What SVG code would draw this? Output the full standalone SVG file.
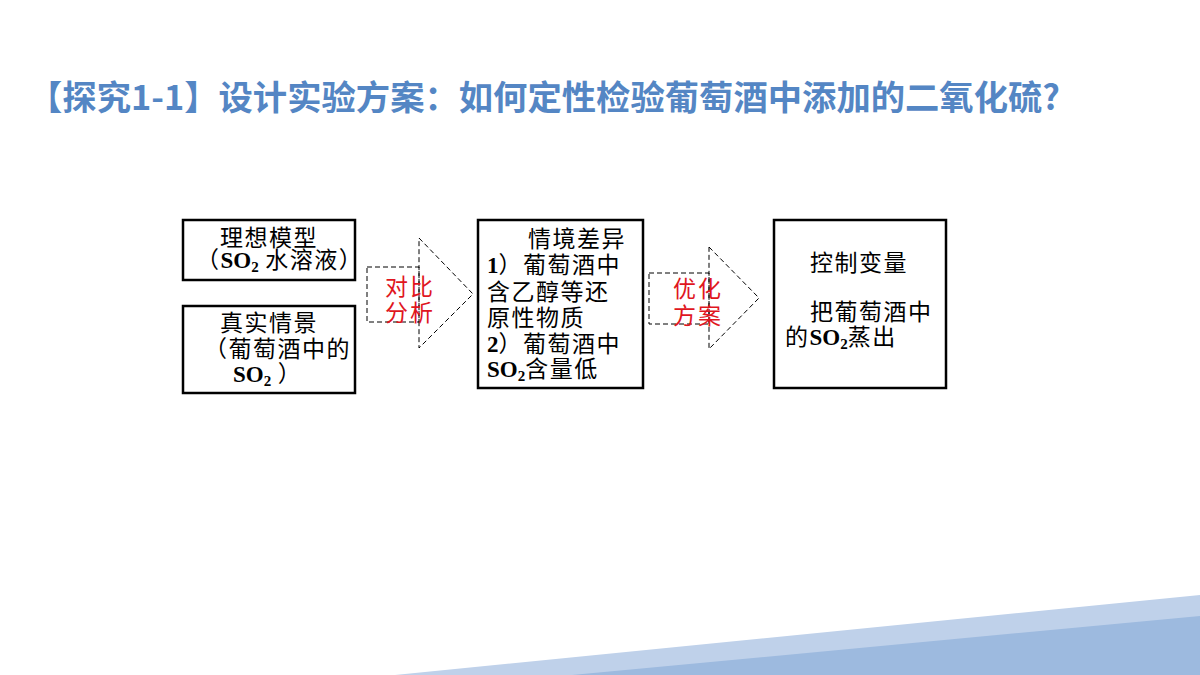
<svg xmlns="http://www.w3.org/2000/svg" width="1200" height="675" viewBox="0 0 1200 675">
<style>
.box{fill:#fff;stroke:#000;stroke-width:2.5}
.dash{fill:none;stroke:#000;stroke-width:1;stroke-dasharray:5,3}
.t{font-family:"Noto Sans CJK SC","Noto Sans CJK JP",sans-serif;font-size:23px;letter-spacing:1.5px;fill:#000}
.r{font-family:"Noto Sans CJK SC","Noto Sans CJK JP",sans-serif;font-size:23px;letter-spacing:2px;fill:#e0161e}
.b{font-family:"Liberation Serif",serif;font-weight:bold;letter-spacing:0}
.sub{font-size:15px}
.title{font-family:"Noto Sans CJK SC","Noto Sans CJK JP",sans-serif;font-size:34px;font-weight:bold;fill:#5486c4}
</style>
<rect x="0" y="0" width="1200" height="675" fill="#fff"/>
<g id="decoration">
<polygon points="395,675 1200,595 1200,675" fill="#bfd1ea"/>
<polygon points="572,675 1200,616 1200,675" fill="#9dbadf"/>
</g>
<text class="title" x="28" y="110" textLength="1032" lengthAdjust="spacingAndGlyphs">【探究1-1】设计实验方案：如何定性检验葡萄酒中添加的二氧化硫?</text>
<g id="connectors">
<g id="arrow1">
<rect class="dash" x="367" y="267" width="52" height="55"/>
<polygon class="dash" points="419,238 473,294 419,348"/>
<text class="r" x="385" y="295">对比</text>
<text class="r" x="385" y="321">分析</text>
</g>
<g id="arrow2">
<rect class="dash" x="649" y="273" width="60" height="51"/>
<polygon class="dash" points="709,247 759,298 709,349"/>
<text class="r" x="673" y="297">优化</text>
<text class="r" x="673" y="324">方案</text>
</g>
</g>
<g id="node-ideal">
<rect class="box" x="183" y="220" width="172" height="60"/>
<text class="t" x="220" y="246">理想模型</text>
<text class="t" x="196" y="268">（<tspan class="b">SO<tspan class="sub" dy="4">2</tspan></tspan><tspan dy="-4"> 水溶液）</tspan></text>
</g>
<g id="node-real">
<rect class="box" x="183" y="306" width="172" height="87"/>
<text class="t" x="220" y="331">真实情景</text>
<text class="t" x="204" y="357">（葡萄酒中的</text>
<text class="t" x="233" y="382"><tspan class="b">SO<tspan class="sub" dy="4">2</tspan></tspan><tspan dy="-4"> ）</tspan></text>
</g>
<g id="node-diff">
<rect class="box" x="478" y="220" width="165" height="168"/>
<text class="t" x="528" y="247">情境差异</text>
<text class="t" x="487" y="273"><tspan class="b">1</tspan>）葡萄酒中</text>
<text class="t" x="487" y="300">含乙醇等还</text>
<text class="t" x="487" y="326">原性物质</text>
<text class="t" x="487" y="352"><tspan class="b">2</tspan>）葡萄酒中</text>
<text class="t" x="487" y="377"><tspan class="b">SO<tspan class="sub" dy="4">2</tspan></tspan><tspan dy="-4">含量低</tspan></text>
</g>
<g id="node-control">
<rect class="box" x="774" y="220" width="172" height="168"/>
<text class="t" x="810" y="271">控制变量</text>
<text class="t" x="810" y="320">把葡萄酒中</text>
<text class="t" x="785" y="345">的<tspan class="b">SO<tspan class="sub" dy="4">2</tspan></tspan><tspan dy="-4">蒸出</tspan></text>
</g>
</svg>
